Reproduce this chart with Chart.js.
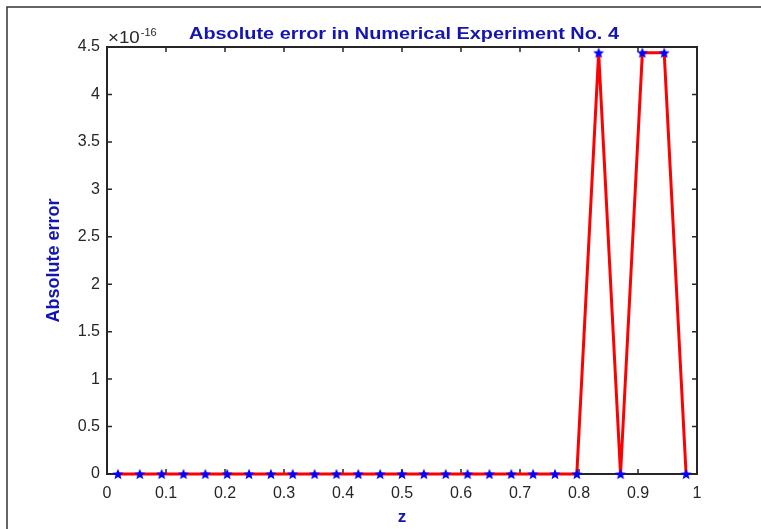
<!DOCTYPE html>
<html lang="en">
<head>
<meta charset="UTF-8">
<title>Absolute error in Numerical Experiment No. 4</title>
<script src="https://cdn.jsdelivr.net/npm/chart.js@4.4.0/dist/chart.umd.min.js"></script>
<style>
  * { margin: 0; padding: 0; }
  body { background: #fff; width: 761px; height: 529px; overflow: hidden; }
</style>
</head>
<body>
<canvas id="errChart" width="761" height="529"></canvas>
<script>
// grid points z (cell centres) and the absolute error, in units of 1e-16
const zValues = [0.0185, 0.0556, 0.0926, 0.1296, 0.1667, 0.2037, 0.2407, 0.2778, 0.3148,
  0.3519, 0.3889, 0.4259, 0.4630, 0.5000, 0.5370, 0.5741, 0.6111, 0.6481,
  0.6852, 0.7222, 0.7593, 0.7963, 0.8333, 0.8704, 0.9074, 0.9444, 0.9815];
const absErrE16 = [0, 0, 0, 0, 0, 0, 0, 0, 0,
  0, 0, 0, 0, 0, 0, 0, 0, 0,
  0, 0, 0, 0, 4.44, 0, 4.44, 4.44, 0];
const xTickLabels = ['0', '0.1', '0.2', '0.3', '0.4', '0.5', '0.6', '0.7', '0.8', '0.9', '1'];
const yTickLabels = ['0', '0.5', '1', '1.5', '2', '2.5', '3', '3.5', '4', '4.5'];
const titleText = 'Absolute error in Numerical Experiment No. 4';
const expBase = '\u00d710';
const expPower = '-16';

const AXIS = '#262626';
const TEXT_BLUE = '#1414b4';
const FONT = '"Liberation Sans", Arial, Helvetica, sans-serif';
const TICK = 5;
const STRETCH = 1.17; // the saved figure is a bit wider than tall

// filled five point star, like MATLAB's 'p' marker
function makeStar(r, color) {
  const c = document.createElement('canvas');
  const s = Math.ceil(r * 2 + 2);
  c.width = s; c.height = s;
  const g = c.getContext('2d');
  g.translate(s / 2, s / 2 + 0.5);
  g.beginPath();
  for (let i = 0; i < 10; i++) {
    const rr = i % 2 === 0 ? r : r * 0.45;
    const a = -Math.PI / 2 + i * Math.PI / 5;
    g.lineTo(rr * Math.cos(a), rr * Math.sin(a));
  }
  g.closePath();
  g.fillStyle = color;
  g.fill();
  return c;
}

function stretchedText(ctx, text, x, y, align) {
  ctx.save();
  ctx.translate(x, y);
  ctx.scale(STRETCH, 1);
  ctx.textAlign = align;
  ctx.fillText(text, 0, 0);
  ctx.restore();
  return ctx.measureText(text).width * STRETCH;
}

const matlabFrame = {
  id: 'matlabFrame',
  beforeDatasetsDraw(chart) {
    const { ctx, chartArea: a, scales: { x, y } } = chart;
    ctx.save();
    ctx.strokeStyle = AXIS;
    ctx.lineWidth = 1.5;
    ctx.beginPath();
    x.ticks.forEach(t => {
      const px = x.getPixelForValue(t.value);
      ctx.moveTo(px, a.bottom); ctx.lineTo(px, a.bottom - TICK);
      ctx.moveTo(px, a.top); ctx.lineTo(px, a.top + TICK);
    });
    y.ticks.forEach(t => {
      const py = y.getPixelForValue(t.value);
      ctx.moveTo(a.left, py); ctx.lineTo(a.left + TICK, py);
      ctx.moveTo(a.right, py); ctx.lineTo(a.right - TICK, py);
    });
    ctx.stroke();
    ctx.lineWidth = 2;
    ctx.strokeRect(a.left, a.top, a.width, a.height);
    ctx.restore();
  },
  afterDraw(chart) {
    const { ctx, chartArea: a } = chart;
    ctx.save();
    // outer figure frame (top and left edges only show)
    ctx.strokeStyle = '#333';
    ctx.lineWidth = 1.5;
    ctx.beginPath();
    ctx.moveTo(7, chart.height); ctx.lineTo(7, 7); ctx.lineTo(chart.width, 7);
    ctx.stroke();
    ctx.textBaseline = 'alphabetic';
    // title
    ctx.fillStyle = TEXT_BLUE;
    ctx.font = 'bold 17px ' + FONT;
    stretchedText(ctx, titleText, (a.left + a.right) / 2 + 2, 39, 'center');
    // exponent
    ctx.fillStyle = AXIS;
    ctx.font = '16px ' + FONT;
    const w = stretchedText(ctx, expBase, a.left + 1, 43, 'left');
    ctx.font = '11px ' + FONT;
    ctx.textAlign = 'left';
    ctx.fillText(expPower, a.left + 2 + w, 36);
    ctx.restore();
  }
};

new Chart(document.getElementById('errChart'), {
  type: 'line',
  data: {
    datasets: [{
      data: zValues.map((z, i) => ({ x: z, y: absErrE16[i] })),
      borderColor: '#ff0000',
      borderWidth: 3,
      tension: 0,
      pointStyle: makeStar(5.8, '#0000ff'),
      pointRadius: 6,
      clip: false,
    }]
  },
  options: {
    responsive: false,
    animation: false,
    layout: { padding: { left: 0, top: 47, right: 64, bottom: 0 } },
    plugins: { legend: { display: false }, tooltip: { enabled: false } },
    scales: {
      x: {
        type: 'linear', min: 0, max: 1,
        afterFit: s => { s.height = 55; },
        grid: { display: false, drawTicks: false },
        border: { display: false },
        ticks: {
          stepSize: 0.1, padding: 10, color: AXIS, maxRotation: 0,
          font: { family: FONT, size: 16 },
          callback: (v, i) => xTickLabels[i]
        },
        title: {
          display: true, text: 'z', color: TEXT_BLUE,
          font: { family: FONT, size: 17, weight: 'bold' },
          padding: { top: 0, bottom: 1 }
        }
      },
      y: {
        min: 0, max: 4.5,
        afterFit: s => { s.width = 107; },
        grid: { display: false, drawTicks: false },
        border: { display: false },
        ticks: {
          stepSize: 0.5, padding: 7, color: AXIS,
          font: { family: FONT, size: 16 },
          callback: (v, i) => yTickLabels[i]
        },
        title: {
          display: true, text: 'Absolute error', color: TEXT_BLUE,
          font: { family: FONT, size: 18, weight: 'bold' },
          padding: { top: 43, bottom: 0 }
        }
      }
    }
  },
  plugins: [matlabFrame]
});
</script>
</body>
</html>
